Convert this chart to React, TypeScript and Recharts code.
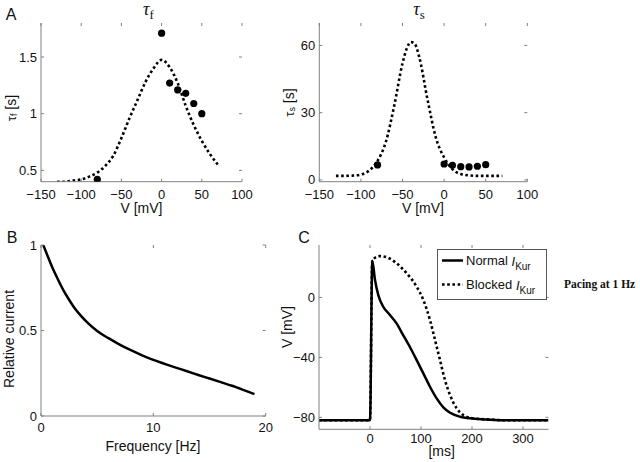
import React from 'react';
import { ComposedChart, Line, Scatter, XAxis, YAxis, Legend } from 'recharts';

// A: time constants of I_Kur inactivation (fit curves + measured points)
const tauFVolt = [-130, -120, -110, -100, -90, -80, -70, -60, -50, -40, -30, -20, -10, 0, 10, 20, 30, 40, 50, 60, 70];
const tauFFit = [0.4, 0.4, 0.41, 0.42, 0.445, 0.48, 0.54, 0.63, 0.785, 0.96, 1.12, 1.28, 1.4, 1.475, 1.41, 1.27, 1.07, 0.9, 0.76, 0.645, 0.55];
const tauSVolt = [-130, -120, -110, -100, -90, -80, -70, -60, -50, -45, -40, -35, -30, -20, -10, 0, 10, 20, 30, 40, 50, 60, 70];
const tauSFit = [1.8, 1.8, 1.9, 2.4, 4.2, 8.5, 17, 33, 52, 58.5, 61.5, 60.5, 55, 36, 19, 10, 4.8, 2.6, 2.0, 1.8, 1.8, 1.8, 1.8];
const expVolt = [-80, 0, 10, 20, 30, 40, 50];
const tauFExp = [0.42, 1.71, 1.27, 1.21, 1.18, 1.09, 1.0];
const tauSExp = [6.7, 7.1, 6.5, 5.9, 5.8, 6.1, 6.8];

// B: relative current vs pacing frequency
const freqHz = [0.2, 0.5, 1, 1.5, 2, 2.5, 3, 3.5, 4, 5, 6, 7, 8, 9, 10, 11, 12, 13, 14, 15, 16, 17, 18, 19];
const relCurrent = [1.0, 0.95, 0.87, 0.8, 0.735, 0.68, 0.63, 0.59, 0.555, 0.497, 0.455, 0.418, 0.385, 0.355, 0.328, 0.305, 0.283, 0.262, 0.24, 0.219, 0.198, 0.177, 0.153, 0.128];

// C: action potentials
const normalMs = [-100, 0, 4.5, 9.8, 16.3, 26, 39, 52, 65, 78, 91.5, 104.6, 117.6, 130.7, 143.8, 157, 176.5, 196, 229, 260, 350];
const normalMv = [-82, -82, 24.5, 11.6, 1.6, -6.2, -11.7, -17.3, -25.1, -32.9, -41.8, -50.7, -59.6, -67.4, -73.4, -77, -79.6, -80.7, -81.4, -82, -82];
const blockedMs = [-100, 0, 4.5, 10, 19.6, 32.7, 52.3, 71.9, 91.5, 104.6, 117.6, 127.5, 137.3, 147, 157, 170, 183, 202.6, 235, 270, 350];
const blockedMv = [-82, -82, 24.5, 26.5, 27.6, 26.8, 22.8, 16.1, 7.2, -1.7, -15.1, -28.4, -41.8, -55.1, -65.2, -74, -78.5, -80.7, -81.5, -82, -82];
const seriesNames = ['Normal', 'Blocked'];

const tauTicksX = [-150, -100, -50, 0, 50, 100];
const tauFTicksY = [0.5, 1, 1.5];
const tauSTicksY = [0, 30, 60];
const freqTicksX = [0, 10, 20];
const freqTicksY = [0, 0.5, 1];
const apTicksX = [0, 100, 200, 300];
const apTicksY = [-80, -40, 0];

const W = 640;
const H = 462;
const FRAME = '#808080';
const INK = '#111';
const SANS = '"Liberation Sans", Arial, Helvetica, sans-serif';
const SERIF = '"Liberation Serif", "Times New Roman", serif';

type Box = { l: number; r: number; t: number; b: number };
const boxTauF: Box = { l: 41, r: 242, t: 23, b: 181.7 };
const boxTauS: Box = { l: 319.3, r: 527.3, t: 23, b: 181.7 };
const boxFreq: Box = { l: 41, r: 265.7, t: 245, b: 416 };
const boxAP: Box = { l: 319, r: 548.5, t: 245, b: 429.3 };

const zip = (xs: number[], ys: number[]) => xs.map((x, i) => ({ x, y: ys[i] }));
const fmt = (v: number) => (v < 0 ? '\u2212' + Math.abs(v) : String(v));

const xTick = (box: Box, gap: number) => (p: any) => (
  <g>
    <line x1={p.x} x2={p.x} y1={box.b} y2={box.b - 3} stroke={FRAME} />
    <line x1={p.x} x2={p.x} y1={box.t} y2={box.t + 3} stroke={FRAME} />
    <text x={p.x} y={box.b + gap} textAnchor="middle" dominantBaseline="central" fontFamily={SANS} fontSize={13} fill={INK}>
      {fmt(p.payload.value)}
    </text>
  </g>
);

const yTick = (box: Box) => (p: any) => (
  <g>
    <line x1={box.l} x2={box.l + 3} y1={p.y} y2={p.y} stroke={FRAME} />
    <line x1={box.r} x2={box.r - 3} y1={p.y} y2={p.y} stroke={FRAME} />
    <text x={box.l - 4} y={p.y} textAnchor="end" dominantBaseline="central" fontFamily={SANS} fontSize={13} fill={INK}>
      {fmt(p.payload.value)}
    </text>
  </g>
);

const dot = (p: any) => <circle cx={p.cx} cy={p.cy} r={3.6} fill="#000" />;

interface PanelProps {
  box: Box;
  xDomain: [number, number];
  yDomain: [number, number];
  xTicks: number[];
  yTicks: number[];
  tickGap?: number;
  extras: React.ReactNode;
  children: React.ReactNode;
}

function Panel({ box, xDomain, yDomain, xTicks, yTicks, tickGap = 11, extras, children }: PanelProps) {
  return (
    <div style={{ position: 'absolute', left: 0, top: 0 }}>
      <ComposedChart width={W} height={H} margin={{ top: box.t, right: W - box.r, left: 0, bottom: 0 }}>
        <XAxis
          xAxisId="b"
          type="number"
          dataKey="x"
          domain={xDomain}
          ticks={xTicks}
          interval={0}
          allowDataOverflow
          height={H - box.b}
          axisLine={{ stroke: FRAME }}
          tickLine={false}
          tick={xTick(box, tickGap)}
          label={{ content: () => <g>{extras}</g> }}
        />
        <XAxis xAxisId="t" orientation="top" type="number" domain={xDomain} height={0} tick={false} tickLine={false} axisLine={{ stroke: FRAME }} />
        <YAxis
          yAxisId="l"
          type="number"
          domain={yDomain}
          ticks={yTicks}
          interval={0}
          allowDataOverflow
          width={box.l}
          axisLine={{ stroke: FRAME }}
          tickLine={false}
          tick={yTick(box)}
        />
        <YAxis yAxisId="r" orientation="right" type="number" domain={yDomain} width={0} tick={false} tickLine={false} axisLine={{ stroke: FRAME }} />
        {children}
      </ComposedChart>
    </div>
  );
}

const Sub = ({ x, y, sym, sub, rot }: { x: number; y: number; sym: string; sub: string; rot?: boolean }) => (
  <text
    x={x}
    y={y}
    textAnchor="middle"
    dominantBaseline="central"
    fontFamily={SANS}
    fontSize={14}
    fill={INK}
    transform={rot ? `rotate(-90, ${x}, ${y})` : undefined}
  >
    <tspan fontSize={13}>{sym}</tspan>
    <tspan fontSize={9} dy={3}>{sub}</tspan>
    <tspan dy={-3}> [s]</tspan>
  </text>
);

const labelText = (x: number, y: number, s: string, rot = false) => (
  <text
    x={x}
    y={y}
    textAnchor="middle"
    dominantBaseline="central"
    fontFamily={SANS}
    fontSize={14}
    fill={INK}
    transform={rot ? `rotate(-90, ${x}, ${y})` : undefined}
  >
    {s}
  </text>
);

const title = (x: number, sub: string) => (
  <text x={x} y={15} textAnchor="middle" fontFamily={SERIF} fill={INK}>
    <tspan fontSize={18} fontStyle="italic">τ</tspan>
    <tspan fontSize={13} dy={4}>{sub}</tspan>
  </text>
);

const letter = (x: number, y: number, s: string) => (
  <text x={x} y={y} textAnchor="middle" dominantBaseline="central" fontFamily={SANS} fontSize={16} fill={INK}>
    {s}
  </text>
);

const renderLegend = () => (
  <svg width={203} height={51} style={{ display: 'block', overflow: 'visible' }}>
    <rect x={0.5} y={0.5} width={109} height={50} fill="#fff" stroke="#555" />
    {seriesNames.map((name, i) => {
      const y = i === 0 ? 11.5 : 35.5;
      return (
        <g key={name}>
          <line
            x1={5}
            x2={26}
            y1={y}
            y2={y}
            stroke="#000"
            strokeWidth={2.5}
            strokeDasharray={i === 0 ? undefined : '2.6 2.6'}
          />
          <text x={29} y={y} dominantBaseline="central" fontFamily={SANS} fontSize={13} fill={INK}>
            {name + ' '}
            <tspan fontStyle="italic">I</tspan>
            <tspan fontSize={10} dy={5}>Kur</tspan>
          </text>
        </g>
      );
    })}
    <text x={127} y={35} dominantBaseline="central" fontFamily={SERIF} fontWeight="bold" fontSize={11.5} fill={INK}>
      Pacing at 1 Hz
    </text>
  </svg>
);

export default function App() {
  return (
    <div style={{ position: 'absolute', left: 0, top: 0, width: W, height: H, background: '#fff' }}>
      <Panel
        box={boxTauF}
        xDomain={[-150, 100]}
        yDomain={[0.4, 1.8]}
        xTicks={tauTicksX}
        yTicks={tauFTicksY}
        tickGap={12.5}
        extras={
          <>
            {letter(11, 14, 'A')}
            {title(148.5, 'f')}
            {labelText(141.5, 208, 'V [mV]')}
            <Sub x={11} y={108} sym="τ" sub="f" rot />
          </>
        }
      >
        <Line xAxisId="b" yAxisId="l" data={zip(tauFVolt, tauFFit)} dataKey="y" type="monotone" stroke="#000" strokeWidth={2.6} strokeDasharray="2.6 2.6" dot={false} isAnimationActive={false} />
        <Scatter xAxisId="b" yAxisId="l" data={zip(expVolt, tauFExp)} dataKey="y" shape={dot} isAnimationActive={false} />
      </Panel>

      <Panel
        box={boxTauS}
        xDomain={[-150, 100]}
        yDomain={[-0.8, 70]}
        xTicks={tauTicksX}
        yTicks={tauSTicksY}
        tickGap={12.5}
        extras={
          <>
            {title(419, 's')}
            {labelText(423, 208, 'V [mV]')}
            <Sub x={289} y={102.5} sym="τ" sub="s" rot />
          </>
        }
      >
        <Line xAxisId="b" yAxisId="l" data={zip(tauSVolt, tauSFit)} dataKey="y" type="monotone" stroke="#000" strokeWidth={2.6} strokeDasharray="2.6 2.6" dot={false} isAnimationActive={false} />
        <Scatter xAxisId="b" yAxisId="l" data={zip(expVolt, tauSExp)} dataKey="y" shape={dot} isAnimationActive={false} />
      </Panel>

      <Panel
        box={boxFreq}
        xDomain={[0, 20]}
        yDomain={[0, 1]}
        xTicks={freqTicksX}
        yTicks={freqTicksY}
        extras={
          <>
            {letter(12, 237, 'B')}
            {labelText(153, 446, 'Frequency [Hz]')}
            {labelText(9, 339, 'Relative current', true)}
          </>
        }
      >
        <Line xAxisId="b" yAxisId="l" data={zip(freqHz, relCurrent)} dataKey="y" type="monotone" stroke="#000" strokeWidth={2.5} dot={false} isAnimationActive={false} />
      </Panel>

      <Panel
        box={boxAP}
        xDomain={[-100, 350]}
        yDomain={[-88, 35]}
        xTicks={apTicksX}
        yTicks={apTicksY}
        tickGap={9}
        extras={
          <>
            {letter(304, 237, 'C')}
            {labelText(441.7, 451, '[ms]')}
            {labelText(286.5, 327, 'V [mV]', true)}
          </>
        }
      >
        <Line xAxisId="b" yAxisId="l" data={zip(blockedMs, blockedMv)} dataKey="y" name={seriesNames[1]} type="monotone" stroke="#000" strokeWidth={2.6} strokeDasharray="2.6 2.6" dot={false} isAnimationActive={false} />
        <Line xAxisId="b" yAxisId="l" data={zip(normalMs, normalMv)} dataKey="y" name={seriesNames[0]} type="monotone" stroke="#000" strokeWidth={2.5} dot={false} isAnimationActive={false} />
        <Legend
          content={renderLegend}
          layout="vertical"
          align="center"
          verticalAlign="middle"
          wrapperStyle={{ left: 436.7, top: 249.3, width: 203, height: 51 }}
        />
      </Panel>
    </div>
  );
}
